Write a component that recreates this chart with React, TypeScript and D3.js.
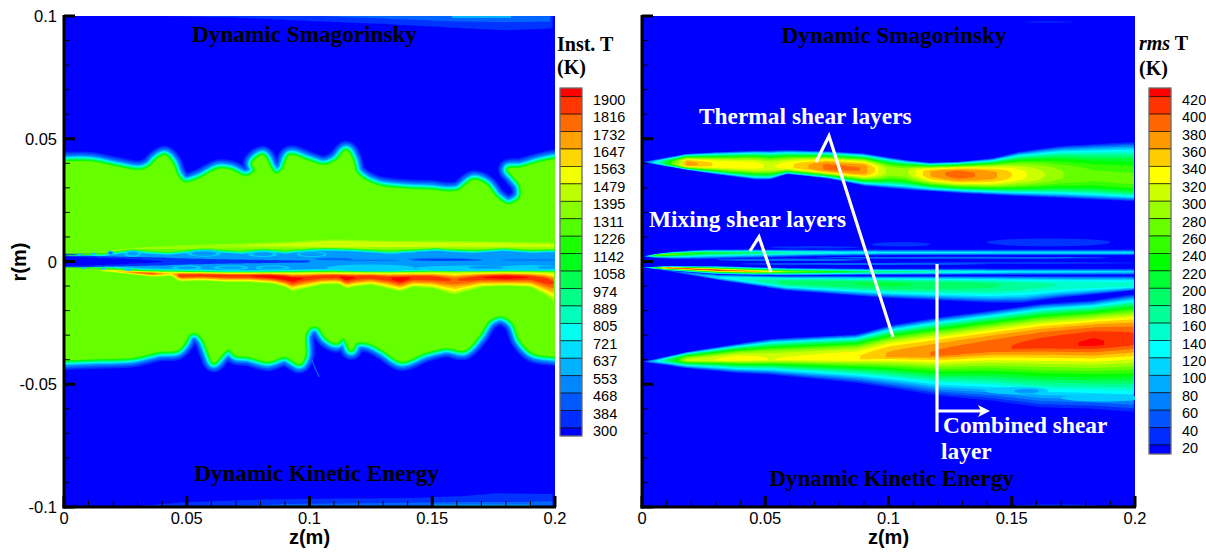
import React from 'react';
import * as d3 from 'd3';

// ---------- axes / legends
const rTicks = [100, 50, 0, -50, -100];
const rTickLabels = ['0.1', '0.05', '0', '-0.05', '-0.1'];
const zTicks = [0, 50, 100, 150, 200];
const zTickLabels = ['0', '0.05', '0.1', '0.15', '0.2'];
const tempLegend = ['1900','1816','1732','1647','1563','1479','1395','1311','1226','1142','1058','974','889','805','721','637','553','468','384','300'];
const rmsLevels = [420,400,380,360,340,320,300,280,260,240,220,200,180,160,140,120,100,80,60,40,20];

// ---------- left panel: instantaneous T, boundaries in mm (z, r)
const upperEdge: [number, number][] = [[-3,40.5],[0,40.5],[11,40.5],[21,38.5],[31,37],[35,38.5],[38,41.5],[41,43],[44,40],[46,35],[49,32],[55,33.5],[63,37.5],[68,37],[74,34.5],[78,37],[77,40],[81,43],[84,38],[86,35.5],[89,37],[92,43],[99,41],[106,39],[111,41],[115,45],[117.5,41],[119,36],[127,31],[138,29.5],[149,29],[160,28.5],[167,33],[172,31],[176,26],[181,23],[186,26],[186,31],[183,35],[181,37.5],[186,38],[193,40],[200,41.5],[204,42]];
const lowerEdge: [number, number][] = [[-3,-40],[0,-40],[14,-39.5],[28,-39],[39,-36.5],[46,-36],[49,-33],[51,-29.5],[54,-29],[57,-32],[59,-37],[61,-41],[64,-38],[67,-35.5],[70,-38],[75,-38.5],[83,-40.5],[90,-38.5],[93,-40],[96,-41.5],[98,-38],[98,-30],[100.5,-26.5],[103.5,-26.5],[107,-31],[111,-33],[114,-31],[117,-36],[119,-33],[124,-33],[130,-36],[137.5,-40.5],[147,-37],[156,-35],[163,-36],[169,-30],[173,-24],[178,-22],[183,-25],[186,-32],[191,-37],[200,-38.5],[204,-39]];
const spike: [number, number][] = [[101,-40],[102.5,-44],[104,-47]];

const gapZ = [0,8,16,22,28,34,42,50,57,64,72,81,90,101,110,122,133,151,167,179,191,200];
const gapUpper = [2.6,3,3.3,4.2,5,4.4,3.9,4.6,5.4,4.8,4.3,5.2,4.4,5.4,5.5,5,4.3,5.5,4.6,5.5,4.6,5];
const gapLower = [-2.4,-2.8,-3,-3.3,-3.6,-4,-4.2,-4.3,-4.4,-4.6,-4.7,-4.6,-4.5,-4.3,-4.2,-4.4,-4.6,-4.3,-4.2,-4.1,-4.2,-4.3];
const gapInnerZ = [0,10,20,30,40,50,60,70,85,100];
const gapInnerHalf = [2.4,2.3,2,1.8,1.6,1.2,1,0.8,0.6,0.35];
const gapDarkZ = [0,8,16,24,32,40];
const gapDarkHalf = [1.9,1.7,1.4,1.1,0.7,0.2];
const gapBlobs: [number, number, number, number, string][] = [
  [125,-2.6,18,1.4,'#00ccff'],[165,-2.8,22,1.2,'#00ccff'],[190,-2.6,12,1.2,'#00ccff'],
  [172,-2.4,7,0.6,'#0099ff'],[197,-2.4,4,0.5,'#0099ff'],
  [28,3.2,3.5,1.3,'#00ccff'],[57,3.3,7,1.4,'#00ccff'],[81,3,6,1.2,'#00ccff'],[101,3,6,1.2,'#00ccff'],
  [28,3.2,2.2,0.7,'#0099ff'],[57,3.2,5,0.9,'#0099ff'],[81,3,4,0.8,'#0099ff'],[101,3,5,0.8,'#0099ff'],
  [50,-2.5,6,1,'#00ccff'],[68,-2.5,7,1,'#00ccff'],[85,-2.5,7,1,'#00ccff'],
  [50,-2.5,4,0.5,'#0099ff'],[68,-2.5,5,0.5,'#0099ff'],[85,-2.5,5,0.5,'#0099ff'],
  [6,2.8,0.8,0.5,'#00ccff'],[12,3,1,0.7,'#00ccff'],[19,3.5,1.5,0.9,'#00ccff'],[19,3.5,0.8,0.5,'#0066ff'],
  [8,-2.8,0.8,0.4,'#00ccff'],[16,-3,1.1,0.5,'#00ccff'],[26,-3.4,1.6,0.6,'#00ccff'],
  [110,1,8,0.5,'#0066ff'],[153,1,13,0.5,'#0066ff'],[156,0.6,15,0.3,'#0033ff'],[190,0.6,12,0.25,'#0066ff'],[125,0.5,12,0.25,'#0066ff'],
];

const hotZ = [14,20,28,36,44,47,56,66,75,85,90,93,98,105,112,115,119,125,132,137,142,150,159,170,180,190,196,200];
const hotTop = [-3.3,-3.5,-3.9,-4.1,-4.2,-4.2,-4.3,-4.4,-4.4,-4.4,-4.4,-4.4,-4.3,-4.3,-4.3,-4.3,-4.3,-4.4,-4.4,-4.3,-4.3,-4.2,-4.2,-4.2,-4.2,-4.2,-4.2,-4.3];
const hotBottom = [-3.9,-4.4,-5.3,-6.2,-6,-8.2,-7.8,-8.4,-8.4,-9,-10.4,-12,-11,-9.4,-9.2,-11,-10.2,-9.4,-11,-12.2,-10.4,-10.8,-13.5,-10.4,-10,-10.4,-13.5,-16.5];
const hotPeak = [3,4,6,7,4,8,8,8,8,9,9,9,8,8,8,9,8,8,8,9,8,8,7,8,9,8,8,7];
const hotColors = ['#99ff00','#ccff00','#ffff00','#ffcc00','#ff9900','#ff6600','#ff3300','#ff0000'];

const stripZ = [15,30,50,70,90,110,130,150,170,200];
const stripTop = [4.2,5.8,7,7.8,8.5,9.5,9,9,8.8,8.3];
const stripCenter = [4,5.4,6,6.5,6.8,7.2,7,6.9,6.8,6.5];
const stripBottom = [3.8,4.6,4.6,4.6,4.6,4.6,4.6,4.6,4.6,4.6];
const stripPeak = [2,2,2,2,2.4,3.4,3,2.8,2.8,2.4];

const topWallZ = [40,70,100,130,160,180,200];
const topWallA = [100,99.4,98,96.8,95.2,94.2,95];
const topWallBZ = [105,130,160,180,200];
const topWallB = [100,99,97.8,97.5,97.7];
const botWallZ = [25,50,80,110,140,165,176,200];
const botWallA = [-100,-98,-97,-96.6,-96.4,-95.4,-94.4,-94.8];
const botWallBZ = [55,90,130,160,185,200];
const botWallB = [-100,-98.8,-98.4,-98,-98,-97.6];

// ---------- right panel: rms T lobes, mm; peaks in K
const thermalUpperZ = [0,18,30,46,52,59,75,90,100,107,117,128,142,153,169,183,200];
const thermalUpperTop = [40.5,43.9,44.6,45.2,45.2,45.5,45,44.1,42.5,41.4,40.3,40.7,42.1,44.8,47.1,48,48.9];
const thermalUpperMid = [40.5,39.7,39.4,39.1,38.7,38.7,38.2,37.6,37,36.7,36,35.7,35.3,35.3,35.3,34.6,33];
const thermalUpperBottom = [40.5,37.3,35.5,33.3,33.3,35.6,33.8,30.8,29.8,29.2,28.5,27.8,27.1,26.5,25.8,25.1,24.4];
const thermalUpperPeak = [40,375,340,330,315,335,390,380,295,295,365,395,370,330,285,265,265];

const mixUpperZ = [0,6,12,25,45,70,100,140,200];
const mixUpperTop = [2,3.2,4,4.9,5.1,5,5,5,5];
const mixUpperMid = [2,2.6,3,3.5,3.6,3.6,3.6,3.6,3.6];
const mixUpperBottom = [2,1.4,1,0.8,1.2,2,2.4,2.4,2.4];
const mixUpperPeak = [40,300,290,230,200,160,135,130,130];

const mixLowerZ = [0,10,30,45,60,90,120,150,200];
const mixLowerTop = [-2.4,-1.9,-1.8,-2.2,-2.6,-2.8,-2.8,-2.8,-2.8];
const mixLowerMid = [-2.4,-2.6,-3.5,-4,-4.1,-4.2,-4.2,-4.2,-4.2];
const mixLowerBottom = [-2.4,-3.6,-5.2,-5.6,-5.8,-5.6,-5.6,-5.6,-5.6];
const mixLowerPeak = [60,420,425,380,290,210,170,135,125];

const outerMixZ = [5,31,58,100,141,155,169,183,200];
const outerMixTop = [-3,-5.2,-5.8,-5.8,-5.8,-5.8,-5.8,-5.8,-5.8];
const outerMixMid = [-3,-6.5,-8.5,-9.2,-9.5,-9.5,-9.5,-9.5,-9.5];
const outerMixBottom = [-3,-7.6,-11.8,-15,-17,-17,-15,-13.6,-11.8];
const outerMixPeak = [30,120,190,205,185,170,160,155,155];

const thermalLowerZ = [0,18,39,52.5,87,100.5,121,142,162,183,200];
const thermalLowerTop = [-40.9,-36.8,-33.4,-31.4,-29.6,-25.9,-22.5,-19.8,-17.1,-15.7,-13];
const thermalLowerMid = [-40.9,-40.5,-40.2,-40.2,-39.9,-38.8,-38.2,-36.1,-34.8,-34.1,-33.4];
const thermalLowerBottom = [-40.9,-43.6,-45.6,-46.3,-49.7,-51.8,-55.2,-57.2,-60,-60.6,-62];
const thermalLowerPeak = [40,305,335,320,340,365,385,395,410,425,410];

// faint pockets [z, r, half-z, half-r, colour]
const rmsPockets: [number, number, number, number, string][] = [
  [152,-52.6,13,1.5,'#00ccff'],[156,-52.8,5,0.9,'#0099ff'],[186,-55.6,16,1.4,'#00ccff'],
  [165,7.8,25,1.6,'#0033ff'],[105,7,12,0.9,'#0033ff'],[70,5.8,18,0.5,'#0033ff'],
  [150,-0.6,50,0.4,'#0033ff'],[130,1.5,60,0.4,'#0066ff'],[60,0.7,30,0.5,'#0066ff'],[90,-1,50,0.4,'#0066ff'],
  [165,97.6,10,0.25,'#0033ff'],[168,-99.4,16,0.45,'#0033ff'],[50,-99.8,10,0.2,'#0033ff'],
];

// ---------- annotations
const shearAnnot: [number, number, string][] = [
  [699, 124, 'Thermal shear layers'],
  [649, 227, 'Mixing shear layers'],
  [943, 433, 'Combined shear'],
  [941, 459, 'layer'],
];
const thermalMark: [number, number][] = [[816,162],[829,136],[893,337]];
const mixingMark: [number, number][] = [[750,251],[759,237],[771,272]];
const combinedMark: [number, number][] = [[937,264],[937,432]];
const combinedArrow: [number, number][] = [[937,411],[984,411]];

// ---------- helpers
const SANS = "'Liberation Sans', Arial, sans-serif";
const SERIF = "'Liberation Serif', 'Times New Roman', serif";
const Y_TOP = 16, Y_BOT = 507;
const yScale = d3.scaleLinear().domain([100, -100]).range([Y_TOP, Y_BOT]);
const rainbow = d3.scaleLinear<string>().domain([0,5,10,15,21]).range(['#ff0000','#ffff00','#00ff00','#00ffff','#0000ff']);
const rmsCell = (L: number) => rainbow((420 - L) / 20);
const denseZ = d3.range(0, 200.01, 1.5);
const interp = (zs: number[], vs: number[]) => {
  const s = d3.scaleLinear().domain(zs).range(vs).clamp(true);
  return (z: number) => s(z);
};

function bandPaths(x: any, zs: number[], top: number[], mid: number[], bot: number[], peak: number[], levels: number[], base: number, pow: number, powBottom = pow) {
  const T = interp(zs, top), M = interp(zs, mid), B = interp(zs, bot), P = interp(zs, peak);
  const pts = denseZ.filter(z => z >= zs[0] && z <= zs[zs.length - 1]);
  return levels.map(L => {
    const f = (z: number) => Math.max(0, 1 - (L - base) / (P(z) - base));
    const area = d3.area<number>()
      .defined(z => P(z) > L)
      .x(z => x(z))
      .y0(z => yScale(M(z) + (B(z) - M(z)) * Math.pow(f(z), powBottom)))
      .y1(z => yScale(M(z) + (T(z) - M(z)) * Math.pow(f(z), pow)))
      .curve(d3.curveCatmullRom);
    return { L, d: area(pts) || '' };
  });
}

function Axes({ x, title, showR }: any) {
  const minorR = d3.range(-100, 101, 10).filter(v => v % 50 !== 0);
  const minorZ = d3.range(0, 201, 10).filter(v => v % 50 !== 0);
  const x0 = x(0), x1 = x(200);
  return (
    <g>
      {minorR.map(v => <line key={v} x1={x0} x2={x0 + 6} y1={yScale(v)} y2={yScale(v)} stroke="#000" strokeWidth={1} />)}
      {rTicks.map(v => <line key={v} x1={x0} x2={x0 + 11} y1={yScale(v)} y2={yScale(v)} stroke="#000" strokeWidth={3} />)}
      {minorZ.map(v => <line key={v} x1={x(v)} x2={x(v)} y1={Y_BOT} y2={Y_BOT - 6} stroke="#000" strokeWidth={1} />)}
      {zTicks.map(v => <line key={v} x1={x(v)} x2={x(v)} y1={Y_BOT} y2={Y_BOT - 11} stroke="#000" strokeWidth={3} />)}
      <line x1={x0} x2={x0} y1={Y_TOP - 1} y2={Y_BOT + 1.5} stroke="#000" strokeWidth={3} />
      <line x1={x0 - 1.5} x2={x1 + 1} y1={Y_BOT} y2={Y_BOT} stroke="#000" strokeWidth={3} />
      {zTicks.map((v, i) => <text key={v} x={x(v)} y={524} textAnchor="middle" fontFamily={SANS} fontSize={16.5} fill="#000">{zTickLabels[i]}</text>)}
      {showR && rTicks.map((v, i) => <text key={v} x={x0 - 7} y={yScale(v) + 6} textAnchor="end" fontFamily={SANS} fontSize={16.5} fill="#000">{rTickLabels[i]}</text>)}
      <text x={(x0 + x1) / 2} y={544} textAnchor="middle" fontFamily={SANS} fontWeight="bold" fontSize={20} fill="#000">{title}</text>
    </g>
  );
}

function Legend({ x, top, bottom, firstLine, lastLine, labels, labelX }: any) {
  const n = labels.length;
  const ly = d3.scaleLinear().domain([0, n - 1]).range([firstLine, lastLine]);
  const edges = [top, ...labels.map((_: any, i: number) => ly(i)), bottom];
  return (
    <g>
      {edges.slice(0, -1).map((e: number, i: number) => (
        <rect key={i} x={x} y={e} width={22} height={edges[i + 1] - e} fill={rainbow(i * 21 / n)} stroke="#000" strokeOpacity={0.75} strokeWidth={0.8} />
      ))}
      <rect x={x} y={top} width={22} height={bottom - top} fill="none" stroke="#888" strokeWidth={1} />
      {labels.map((t: string, i: number) => (
        <text key={t} x={labelX} y={ly(i) + 8} fontFamily={SANS} fontSize={14.5} fill="#000">{t}</text>
      ))}
    </g>
  );
}

// half-width, px, of each contour band just outside the hot core, outermost first
const edgeBandHalf = [1.5, 1.5, 1.3, 0.8, 0.7, 0.5, 0.5, 0.5, 0.6, 0.7, 0.6, 0.5, 0.5];

function LeftField({ x }: any) {
  const line = d3.line<[number, number]>().x(p => x(p[0])).y(p => yScale(p[1])).curve(d3.curveCatmullRom.alpha(0.5));
  const closeAt = (r: number) => `L${x(206)},${yScale(r)}L${x(-6)},${yScale(r)}Z`;
  const upPath = line(upperEdge) + closeAt(1);
  const lowPath = line(lowerEdge) + closeAt(-1);
  const bandCols = d3.range(8, 21).map(i => rainbow(i)).reverse();
  const U = interp(gapZ, gapUpper), Lo = interp(gapZ, gapLower);
  const gapCols = ['#33ff00', '#00ff66', '#00ffcc', '#00ccff', '#0099ff'];
  const zPts = d3.range(0, 200.01, 2);
  const gapArea = (i: number) => d3.area<number>().x(z => x(z))
    .y0(z => yScale(Math.min(Lo(z) + i * 0.3, -0.2)))
    .y1(z => yScale(Math.max(U(z) - i * 0.3, 0.2))).curve(d3.curveCatmullRom)(zPts) || '';
  const I = interp(gapInnerZ, gapInnerHalf);
  const D = interp(gapDarkZ, gapDarkHalf);
  const inner0 = d3.area<number>().x(z => x(z)).y0(z => yScale(-I(z))).y1(z => yScale(I(z))).curve(d3.curveCatmullRom)(d3.range(0, 100.01, 2)) || '';
  const inner1 = d3.area<number>().x(z => x(z)).y0(z => yScale(-D(z))).y1(z => yScale(D(z))).curve(d3.curveCatmullRom)(d3.range(0, 40.01, 2)) || '';
  const strips = bandPaths(x, stripZ, stripTop, stripCenter, stripBottom, stripPeak, [1, 2], 0, 0.7);
  const hot = bandPaths(x, hotZ, hotTop, hotTop.map((t, i) => t + (hotBottom[i] - t) * 0.36), hotBottom, hotPeak, [1,2,3,4,5,6,7,8], 1, 0.7);
  const wall = (zs: number[], edge: number[], limit: number) => {
    const E = interp(zs, edge);
    const pts = d3.range(zs[0], 200.01, 3);
    return d3.area<number>().x(z => x(z)).y0(yScale(limit)).y1(z => yScale(E(z))).curve(d3.curveCatmullRom)(pts) || '';
  };
  let cum = d3.sum(edgeBandHalf);
  const strokeW = edgeBandHalf.map(h => { const w = cum * 2; cum -= h; return w; });
  return (
    <g clipPath="url(#clipL)">
      <rect x={x(0)} y={Y_TOP} width={x(200) - x(0)} height={Y_BOT - Y_TOP} fill="#0000ff" />
      <path d={wall(topWallZ, topWallA, 100)} fill="#0033ff" />
      <path d={wall(topWallBZ, topWallB, 100)} fill="#0066ff" />
      <line x1={x(158)} x2={x(182)} y1={Y_TOP + 1} y2={Y_TOP + 1} stroke="#00ccff" strokeWidth={1.5} />
      <path d={wall(botWallZ, botWallA, -100)} fill="#0033ff" />
      <path d={wall(botWallBZ, botWallB, -100)} fill="#0066ff" />
      <line x1={x(150)} x2={x(190)} y1={Y_BOT - 1.5} y2={Y_BOT - 1.5} stroke="#00ccff" strokeWidth={1.5} />
      {[upPath, lowPath].map((d, k) => (
        <g key={k}>
          {bandCols.map((c, i) => (
            <path key={i} d={d} fill="none" stroke={c} strokeLinejoin="round" strokeWidth={strokeW[i]} />
          ))}
          <path d={d} fill="#66ff00" />
        </g>
      ))}
      <path d={line(spike) || ''} fill="none" stroke="#0066ff" strokeWidth={1.2} />
      {strips.map(b => <path key={b.L} d={b.d} fill={b.L === 1 ? '#99ff00' : '#ccff00'} />)}
      {gapCols.map((c, i) => <path key={c} d={gapArea(i)} fill={c} />)}
      <path d={inner0} fill="#0033ff" />
      <path d={inner1} fill="#0000ff" />
      {gapBlobs.map((b, i) => <ellipse key={i} cx={x(b[0])} cy={yScale(b[1])} rx={b[2] * 2.455} ry={b[3] * 2.455} fill={b[4]} />)}
      {hot.map((b, i) => <path key={b.L} d={b.d} fill={hotColors[i]} />)}
    </g>
  );
}

function RightField({ x }: any) {
  const levels = rmsLevels.slice().reverse();
  const draw = (zs: number[], t: number[], m: number[], b: number[], p: number[], pow = 0.6, powB = pow) =>
    bandPaths(x, zs, t, m, b, p, levels, 10, pow, powB).map(o => <path key={o.L} d={o.d} fill={rmsCell(o.L)} />);
  return (
    <g clipPath="url(#clipR)">
      <rect x={x(0)} y={Y_TOP} width={x(200) - x(0)} height={Y_BOT - Y_TOP} fill="#0000ff" />
      {rmsPockets.slice(3).map((b, i) => <ellipse key={i} cx={x(b[0])} cy={yScale(b[1])} rx={b[2] * 2.465} ry={b[3] * 2.455} fill={b[4]} />)}
      <g>{draw(outerMixZ, outerMixTop, outerMixMid, outerMixBottom, outerMixPeak, 0.5)}</g>
      <g>{draw(mixUpperZ, mixUpperTop, mixUpperMid, mixUpperBottom, mixUpperPeak, 1)}</g>
      <g>{draw(mixLowerZ, mixLowerTop, mixLowerMid, mixLowerBottom, mixLowerPeak, 1)}</g>
      <g>{draw(thermalUpperZ, thermalUpperTop, thermalUpperMid, thermalUpperBottom, thermalUpperPeak, 0.42, 0.42)}</g>
      <g>{draw(thermalLowerZ, thermalLowerTop, thermalLowerMid, thermalLowerBottom, thermalLowerPeak, 0.42, 1)}</g>
      {rmsPockets.slice(0, 3).map((b, i) => <ellipse key={i} cx={x(b[0])} cy={yScale(b[1])} rx={b[2] * 2.465} ry={b[3] * 2.455} fill={b[4]} />)}
    </g>
  );
}

export default function App() {
  const xL = d3.scaleLinear().domain([0, 200]).range([64, 555]);
  const xR = d3.scaleLinear().domain([0, 200]).range([642, 1135]);
  const mark = d3.line<[number, number]>();
  return (
    <svg width={1206} height={553} viewBox="0 0 1206 553" style={{ position: 'absolute', left: 0, top: 0, background: '#fff' }}>
      <defs>
        <clipPath id="clipL"><rect x={64} y={Y_TOP} width={491} height={Y_BOT - Y_TOP} /></clipPath>
        <clipPath id="clipR"><rect x={642} y={Y_TOP} width={493} height={Y_BOT - Y_TOP} /></clipPath>
      </defs>
      <LeftField x={xL} />
      <RightField x={xR} />
      <Axes x={xL} title="z(m)" showR />
      <Axes x={xR} title="z(m)" showR={false} />
      <text transform="translate(26,262) rotate(-90)" textAnchor="middle" fontFamily={SANS} fontWeight="bold" fontSize={20} fill="#000">r(m)</text>

      <g fontFamily={SERIF} fontWeight="bold" fontSize={23.2} fill="#000">
        <text x={304.5} y={42} textAnchor="middle">Dynamic Smagorinsky</text>
        <text x={316.5} y={481} textAnchor="middle">Dynamic Kinetic Energy</text>
        <text x={894} y={43} textAnchor="middle">Dynamic Smagorinsky</text>
        <text x={891.5} y={486} textAnchor="middle">Dynamic Kinetic Energy</text>
      </g>

      <g fontFamily={SERIF} fontWeight="bold" fontSize={23.4} fill="#fff">
        {shearAnnot.map(a => <text key={a[2]} x={a[0]} y={a[1]}>{a[2]}</text>)}
      </g>
      <g fill="none" stroke="#fff" strokeWidth={3.2}>
        <path d={mark(thermalMark) || ''} />
        <path d={mark(mixingMark) || ''} />
        <path d={mark(combinedMark) || ''} />
        <path d={mark(combinedArrow) || ''} />
      </g>
      <path d="M978,405L990,411L978,417L981,411Z" fill="#fff" />

      <g fontFamily={SERIF} fontWeight="bold" fontSize={20} fill="#000">
        <text x={557} y={51}>Inst. T</text>
        <text x={557} y={74}>(K)</text>
        <text x={1139} y={50}><tspan fontStyle="italic">rms</tspan> T</text>
        <text x={1139} y={75}>(K)</text>
      </g>
      <Legend x={560} top={88} bottom={436} firstLine={96.7} lastLine={428} labels={tempLegend} labelX={593} />
      <Legend x={1149} top={88} bottom={454} firstLine={96.7} lastLine={445} labels={rmsLevels.map(String)} labelX={1182} />
    </svg>
  );
}
